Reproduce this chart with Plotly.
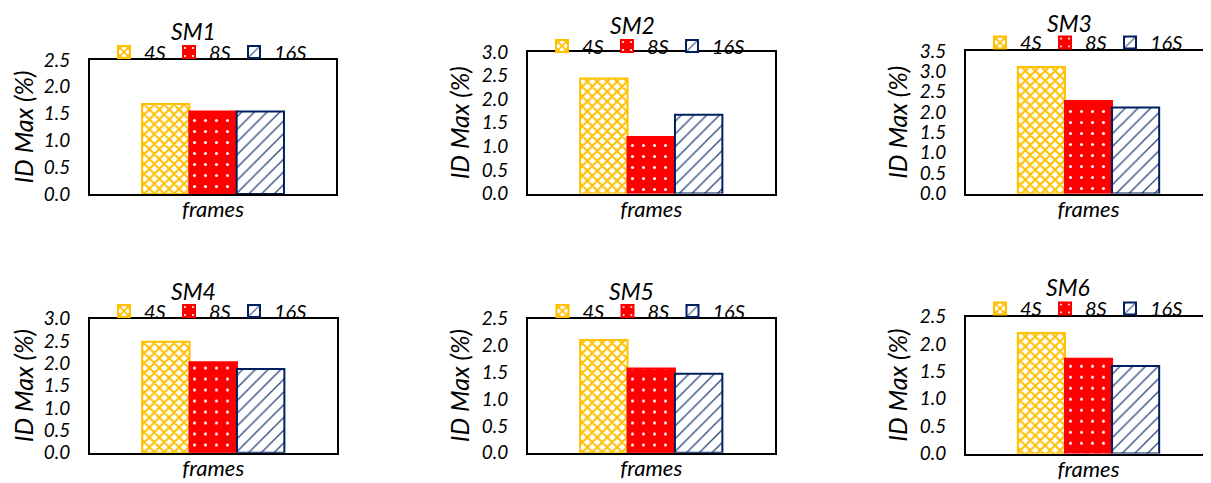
import plotly.graph_objects as go

# ---------------- data ----------------
categories = ["frames"]
panels = ["SM1", "SM2", "SM3", "SM4", "SM5", "SM6"]
series_names = ["4S", "8S", "16S"]
values_4S = [1.68, 2.44, 3.11, 2.48, 2.10, 2.20]
values_8S = [1.54, 1.20, 2.27, 2.02, 1.57, 1.73]
values_16S = [1.54, 1.67, 2.11, 1.87, 1.47, 1.60]
y_max = [2.5, 3.0, 3.5, 3.0, 2.5, 2.5]
y_title = "ID Max (%)"

# ---------------- layout helpers ----------------
# the page body has an 8px margin, so the figure is drawn 8px in from the corner
OFF = 8
W, H = 1211 - OFF, 483 - OFF
FONT = "Lato"
GOLD, RED, NAVY = "#FFC000", "#FF0000", "#002060"


def px_x(v):
    return (v - OFF) / W


def px_y(v):
    return 1 - (v - OFF) / H


# plot-area boxes in reference pixels (left, right, top, bottom)
boxes = [
    (90, 336, 60, 194),
    (528, 774.5, 52, 193.5),
    (966, 1211, 51, 193.5),
    (90, 336.5, 318.5, 452.7),
    (528, 774.5, 318.5, 452.7),
    (966, 1211, 316.7, 453.5),
]
# legend anchor (left x of first square, centre y)
legend_pos = [(117, 52), (555, 46), (993, 42.5), (117, 311), (555.5, 311), (993, 308.5)]
# title centres
title_pos = [(193, 30.5), (632, 25), (1069, 22.5), (193, 291), (631, 291), (1068, 287)]

styles = [
    dict(color=GOLD, pattern=dict(shape="x", fgcolor=GOLD, bgcolor="white", size=7, solidity=0.5, fillmode="replace")),
    dict(color=RED, pattern=dict(shape=".", fgcolor="white", bgcolor=RED, size=11, solidity=0.06, fillmode="replace")),
    dict(color=NAVY, pattern=dict(shape="/", fgcolor="#2F4A80", bgcolor="white", size=9, solidity=0.15, fillmode="replace")),
]
legend_widths = [20, 20, 45]
all_values = [values_4S, values_8S, values_16S]

fig = go.Figure()
layout = dict(
    width=W, height=H,
    margin=dict(l=0, r=0, t=0, b=0, autoexpand=False),
    paper_bgcolor="white", plot_bgcolor="white",
    barmode="group", bargap=0.423, bargroupgap=0,
    font=dict(family=FONT, color="black"),
    annotations=[],
)

for i, panel in enumerate(panels):
    k = "" if i == 0 else str(i + 1)
    lg = "legend" + k
    for s, name in enumerate(series_names):
        st = styles[s]
        fig.add_trace(go.Bar(
            x=categories, y=[all_values[s][i]], name=name,
            xaxis="x" + k, yaxis="y" + k, legend=lg, legendwidth=legend_widths[s],
            marker=dict(color=st["color"], pattern=st["pattern"],
                        line=dict(color=st["color"], width=2)),
            hoverinfo="y+name",
        ))
    l, r, t, b = boxes[i]
    right_edge = (r >= 1211)
    layout["xaxis" + k] = dict(
        domain=[px_x(l), min(1.0, px_x(r))], anchor="y" + k,
        showline=True, linecolor="black", linewidth=2, mirror=True,
        showgrid=False, ticks="", zeroline=False, ticklabelstandoff=-5,
        tickfont=dict(family=FONT, size=22, style="italic", color="black"),
    )
    layout["yaxis" + k] = dict(
        domain=[px_y(b), px_y(t)], anchor="x" + k,
        range=[0, y_max[i]], dtick=0.5, tickformat=".1f",
        showline=True, linecolor="black", linewidth=2, mirror=False if right_edge else True,
        showgrid=False, zeroline=False, ticks="", ticklabelstandoff=14,
        tickfont=dict(family=FONT, size=19, style="italic", color="black"),
        title=dict(text=y_title, standoff=5,
                   font=dict(family=FONT, size=25, style="italic", color="black")),
    )
    lx, ly = legend_pos[i]
    layout[lg] = dict(
        orientation="h", x=px_x(lx - 13), y=px_y(ly), xanchor="left", yanchor="middle",
        entrywidthmode="pixels", itemwidth=30,
        bgcolor="rgba(0,0,0,0)", borderwidth=0,
        font=dict(family=FONT, size=20, style="italic", color="black"),
        itemclick=False, itemdoubleclick=False,
    )
    tx, ty = title_pos[i]
    layout["annotations"].append(dict(
        text=panel, x=px_x(tx), y=px_y(ty), xref="paper", yref="paper",
        xanchor="center", yanchor="middle", showarrow=False,
        font=dict(family=FONT, size=23, style="italic", color="black"),
    ))

fig.update_layout(**layout)
fig.write_html("out.html")
